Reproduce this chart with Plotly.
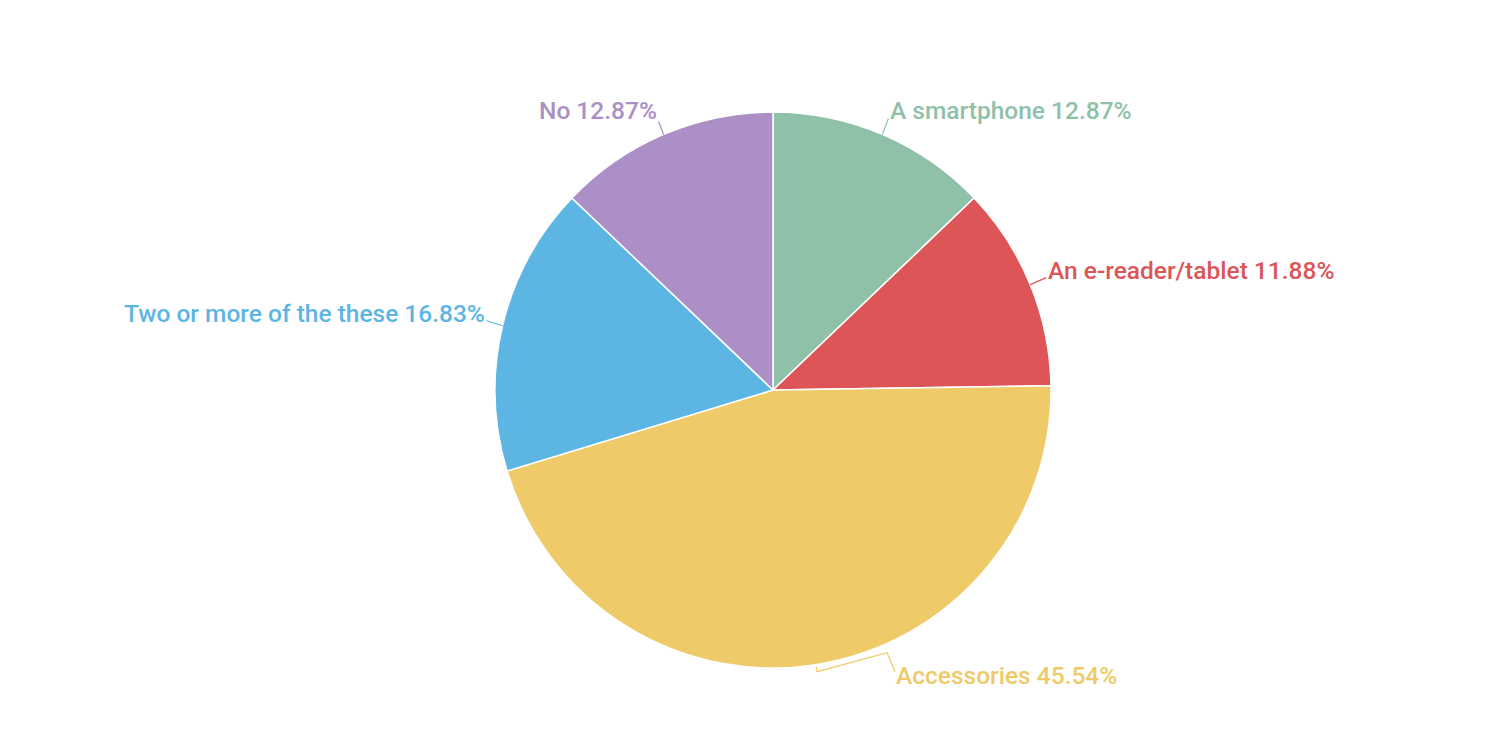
import math
import plotly.graph_objects as go

labels = ["A smartphone", "An e-reader/tablet", "Accessories",
          "Two or more of the these", "No"]
counts = [13, 12, 46, 17, 13]
colors = ["#8fc1a9", "#dd5557", "#efca68", "#5db5e3", "#ab8fc6"]

# leader line shapes (pixel offsets from slice edge, y up) and text shifts
leader = [
    [(0, 0), (6, 16)],
    [(0, 0), (16, 7)],
    [(0, -2), (1, -7), (71, 12), (79, -7)],
    [(0, 0), (-16, 5)],
    [(0, 0), (-5, 13)],
]
shifts = [(6, 24), (16, 14), (78, -11), (-16, 12), (-5, 24)]
xanch = ["left", "left", "left", "right", "right"]

W, H = 1488, 735
ml, mr, mt, mb = 42, 0, 104, 75
pw, ph = W - ml - mr, H - mt - mb
r_px = min(pw, ph) / 2

fig = go.Figure(go.Pie(
    labels=labels,
    values=counts,
    sort=False,
    direction="clockwise",
    rotation=0,
    marker=dict(colors=colors, line=dict(color="white", width=1.5)),
    textinfo="none",
    hoverinfo="label+percent",
    showlegend=False,
))

total = sum(counts)
cum = 0
annots = []
shapes = []
for i, (lab, c, col) in enumerate(zip(labels, counts, colors)):
    mid = (cum + c / 2) / total * 2 * math.pi
    cum += c
    x = 0.5 + r_px * math.sin(mid) / pw
    y = 0.5 + r_px * math.cos(mid) / ph
    pct = c / total * 100
    annots.append(dict(
        x=x, y=y, xref="paper", yref="paper",
        text=f"{lab} {pct:.2f}%", showarrow=False,
        xanchor=xanch[i], yanchor="middle",
        xshift=shifts[i][0], yshift=shifts[i][1],
        font=dict(color=col, size=24.5, family="Roboto", weight=500),
    ))
    pts = leader[i]
    path = "M" + " L".join(f"{px},{py}" for px, py in pts)
    shapes.append(dict(
        type="path", xref="paper", yref="paper",
        xsizemode="pixel", ysizemode="pixel", xanchor=x, yanchor=y,
        path=path, line=dict(color=col, width=1.2),
    ))

fig.update_layout(
    width=W, height=H,
    margin=dict(l=ml, r=mr, t=mt, b=mb),
    paper_bgcolor="white",
    plot_bgcolor="white",
    annotations=annots,
    shapes=shapes,
)

fig.write_html("out.html")
